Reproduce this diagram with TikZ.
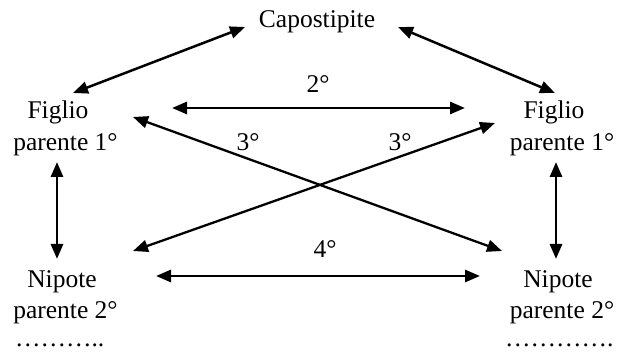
\documentclass[tikz,border=0pt]{standalone}
\usepackage{fontspec}
\setmainfont{Liberation Serif}
\usetikzlibrary{arrows.meta}
\begin{document}
\begin{tikzpicture}[x=1pt,y=1pt,
  txt/.style={inner sep=0pt,outer sep=0pt,anchor=base,font=\fontsize{25.5}{30}\selectfont},
  arr/.style={{Triangle[length=15pt,width=12pt]}-{Triangle[length=15pt,width=12pt]},line width=2.9pt},
  darr/.style={arr,line width=2.5pt},
  xarr/.style={arr,line width=2.3pt}]
\useasboundingbox (0,0) rectangle (626,352);
% nodes
\node[txt] (cap) at (317,324) {Capostipite};
\node[txt] (fL1) at (58,233) {Figlio};
\node[txt] (fL2) at (65.5,201) {parente 1°};
\node[txt] (fR1) at (554,233) {Figlio};
\node[txt] (fR2) at (562,201) {parente 1°};
\node[txt] (nL1) at (62,64) {Nipote};
\node[txt] (nL2) at (65.5,33) {parente 2°};
\node[txt] (nR1) at (558,64) {Nipote};
\node[txt] (nR2) at (562,33) {parente 2°};
\node[txt,anchor=base west] (dL) at (15,5) {………..};
\node[txt,anchor=base west] (dR) at (505,5) {………….};
% labels
\node[txt] (l2) at (318,259) {2°};
\node[txt] (l3a) at (248,201) {3°};
\node[txt] (l3b) at (400,201) {3°};
\node[txt] (l4) at (325,94) {4°};
% connectors
\draw[darr] ([shift={(-72,1)}]cap.base) -- ([shift={(15,26)}]fL1.base);
\draw[darr] ([shift={(81,1)}]cap.base) -- ([shift={(1,26)}]fR1.base);
\draw[arr] ([shift={(114,11)}]fL1.base) -- ([shift={(-89,11)}]fR1.base);
\draw[xarr] ([shift={(75,2)}]fL1.base) -- ([shift={(-56,37)}]nR1.base);
\draw[xarr] ([shift={(-59,-4)}]fR1.base) -- ([shift={(71,37)}]nL1.base);
\draw[arr] ([shift={(-8.5,-11)}]fL2.base) -- ([shift={(-5,29)}]nL1.base);
\draw[arr] ([shift={(-6,-11)}]fR2.base) -- ([shift={(-2,29)}]nR1.base);
\draw[arr] ([shift={(94,12)}]nL1.base) -- ([shift={(-78,12)}]nR1.base);
\end{tikzpicture}
\end{document}
